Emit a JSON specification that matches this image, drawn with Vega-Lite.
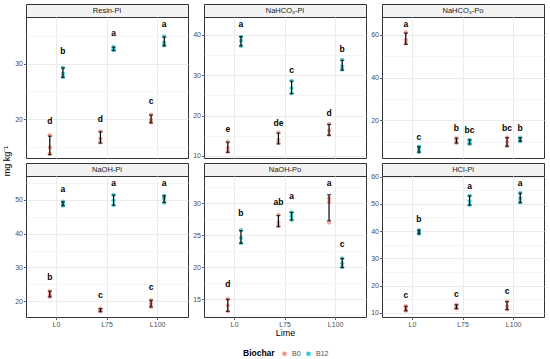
{
"$schema": "https://vega.github.io/schema/vega-lite/v6.json",
"padding": {"left": 3, "top": 3, "right": 2, "bottom": 0},
"datasets": {
"obs": [
{"Fraction":"Resin-Pi","Lime":"L0","Biochar":"B0","v":17.1},{"Fraction":"Resin-Pi","Lime":"L0","Biochar":"B0","v":14.9},{"Fraction":"Resin-Pi","Lime":"L0","Biochar":"B0","v":13.8},
{"Fraction":"Resin-Pi","Lime":"L0","Biochar":"B12","v":29.3},{"Fraction":"Resin-Pi","Lime":"L0","Biochar":"B12","v":28.2},{"Fraction":"Resin-Pi","Lime":"L0","Biochar":"B12","v":27.6},
{"Fraction":"Resin-Pi","Lime":"L75","Biochar":"B0","v":17.8},{"Fraction":"Resin-Pi","Lime":"L75","Biochar":"B0","v":16.5},{"Fraction":"Resin-Pi","Lime":"L75","Biochar":"B0","v":15.8},
{"Fraction":"Resin-Pi","Lime":"L75","Biochar":"B12","v":33.0},{"Fraction":"Resin-Pi","Lime":"L75","Biochar":"B12","v":32.6},{"Fraction":"Resin-Pi","Lime":"L75","Biochar":"B12","v":32.4},
{"Fraction":"Resin-Pi","Lime":"L100","Biochar":"B0","v":20.8},{"Fraction":"Resin-Pi","Lime":"L100","Biochar":"B0","v":19.9},{"Fraction":"Resin-Pi","Lime":"L100","Biochar":"B0","v":19.4},
{"Fraction":"Resin-Pi","Lime":"L100","Biochar":"B12","v":34.9},{"Fraction":"Resin-Pi","Lime":"L100","Biochar":"B12","v":33.8},{"Fraction":"Resin-Pi","Lime":"L100","Biochar":"B12","v":33.3},
{"Fraction":"NaHCO3-Pi","Lime":"L0","Biochar":"B0","v":13.5},{"Fraction":"NaHCO3-Pi","Lime":"L0","Biochar":"B0","v":12.0},{"Fraction":"NaHCO3-Pi","Lime":"L0","Biochar":"B0","v":11.0},
{"Fraction":"NaHCO3-Pi","Lime":"L0","Biochar":"B12","v":39.5},{"Fraction":"NaHCO3-Pi","Lime":"L0","Biochar":"B12","v":38.5},{"Fraction":"NaHCO3-Pi","Lime":"L0","Biochar":"B12","v":37.2},
{"Fraction":"NaHCO3-Pi","Lime":"L75","Biochar":"B0","v":15.8},{"Fraction":"NaHCO3-Pi","Lime":"L75","Biochar":"B0","v":14.0},{"Fraction":"NaHCO3-Pi","Lime":"L75","Biochar":"B0","v":13.2},
{"Fraction":"NaHCO3-Pi","Lime":"L75","Biochar":"B12","v":28.6},{"Fraction":"NaHCO3-Pi","Lime":"L75","Biochar":"B12","v":26.8},{"Fraction":"NaHCO3-Pi","Lime":"L75","Biochar":"B12","v":25.5},
{"Fraction":"NaHCO3-Pi","Lime":"L100","Biochar":"B0","v":17.9},{"Fraction":"NaHCO3-Pi","Lime":"L100","Biochar":"B0","v":16.3},{"Fraction":"NaHCO3-Pi","Lime":"L100","Biochar":"B0","v":15.2},
{"Fraction":"NaHCO3-Pi","Lime":"L100","Biochar":"B12","v":33.8},{"Fraction":"NaHCO3-Pi","Lime":"L100","Biochar":"B12","v":32.2},{"Fraction":"NaHCO3-Pi","Lime":"L100","Biochar":"B12","v":31.4},
{"Fraction":"NaHCO3-Po","Lime":"L0","Biochar":"B0","v":61.0},{"Fraction":"NaHCO3-Po","Lime":"L0","Biochar":"B0","v":57.5},{"Fraction":"NaHCO3-Po","Lime":"L0","Biochar":"B0","v":55.8},
{"Fraction":"NaHCO3-Po","Lime":"L0","Biochar":"B12","v":7.8},{"Fraction":"NaHCO3-Po","Lime":"L0","Biochar":"B12","v":6.5},{"Fraction":"NaHCO3-Po","Lime":"L0","Biochar":"B12","v":5.2},
{"Fraction":"NaHCO3-Po","Lime":"L75","Biochar":"B0","v":11.8},{"Fraction":"NaHCO3-Po","Lime":"L75","Biochar":"B0","v":10.5},{"Fraction":"NaHCO3-Po","Lime":"L75","Biochar":"B0","v":9.5},
{"Fraction":"NaHCO3-Po","Lime":"L75","Biochar":"B12","v":11.0},{"Fraction":"NaHCO3-Po","Lime":"L75","Biochar":"B12","v":10.0},{"Fraction":"NaHCO3-Po","Lime":"L75","Biochar":"B12","v":9.0},
{"Fraction":"NaHCO3-Po","Lime":"L100","Biochar":"B0","v":12.0},{"Fraction":"NaHCO3-Po","Lime":"L100","Biochar":"B0","v":10.0},{"Fraction":"NaHCO3-Po","Lime":"L100","Biochar":"B0","v":8.0},
{"Fraction":"NaHCO3-Po","Lime":"L100","Biochar":"B12","v":12.0},{"Fraction":"NaHCO3-Po","Lime":"L100","Biochar":"B12","v":11.0},{"Fraction":"NaHCO3-Po","Lime":"L100","Biochar":"B12","v":10.3},
{"Fraction":"NaOH-Pi","Lime":"L0","Biochar":"B0","v":23.0},{"Fraction":"NaOH-Pi","Lime":"L0","Biochar":"B0","v":22.0},{"Fraction":"NaOH-Pi","Lime":"L0","Biochar":"B0","v":21.3},
{"Fraction":"NaOH-Pi","Lime":"L0","Biochar":"B12","v":49.5},{"Fraction":"NaOH-Pi","Lime":"L0","Biochar":"B12","v":48.8},{"Fraction":"NaOH-Pi","Lime":"L0","Biochar":"B12","v":48.3},
{"Fraction":"NaOH-Pi","Lime":"L75","Biochar":"B0","v":17.8},{"Fraction":"NaOH-Pi","Lime":"L75","Biochar":"B0","v":17.3},{"Fraction":"NaOH-Pi","Lime":"L75","Biochar":"B0","v":16.9},
{"Fraction":"NaOH-Pi","Lime":"L75","Biochar":"B12","v":51.5},{"Fraction":"NaOH-Pi","Lime":"L75","Biochar":"B12","v":49.8},{"Fraction":"NaOH-Pi","Lime":"L75","Biochar":"B12","v":48.5},
{"Fraction":"NaOH-Pi","Lime":"L100","Biochar":"B0","v":20.3},{"Fraction":"NaOH-Pi","Lime":"L100","Biochar":"B0","v":19.2},{"Fraction":"NaOH-Pi","Lime":"L100","Biochar":"B0","v":18.3},
{"Fraction":"NaOH-Pi","Lime":"L100","Biochar":"B12","v":51.2},{"Fraction":"NaOH-Pi","Lime":"L100","Biochar":"B12","v":50.3},{"Fraction":"NaOH-Pi","Lime":"L100","Biochar":"B12","v":49.2},
{"Fraction":"NaOH-Po","Lime":"L0","Biochar":"B0","v":15.0},{"Fraction":"NaOH-Po","Lime":"L0","Biochar":"B0","v":14.0},{"Fraction":"NaOH-Po","Lime":"L0","Biochar":"B0","v":13.1},
{"Fraction":"NaOH-Po","Lime":"L0","Biochar":"B12","v":25.8},{"Fraction":"NaOH-Po","Lime":"L0","Biochar":"B12","v":24.6},{"Fraction":"NaOH-Po","Lime":"L0","Biochar":"B12","v":23.8},
{"Fraction":"NaOH-Po","Lime":"L75","Biochar":"B0","v":28.2},{"Fraction":"NaOH-Po","Lime":"L75","Biochar":"B0","v":27.0},{"Fraction":"NaOH-Po","Lime":"L75","Biochar":"B0","v":26.5},
{"Fraction":"NaOH-Po","Lime":"L75","Biochar":"B12","v":28.6},{"Fraction":"NaOH-Po","Lime":"L75","Biochar":"B12","v":28.0},{"Fraction":"NaOH-Po","Lime":"L75","Biochar":"B12","v":27.4},
{"Fraction":"NaOH-Po","Lime":"L100","Biochar":"B0","v":30.8},{"Fraction":"NaOH-Po","Lime":"L100","Biochar":"B0","v":30.2},{"Fraction":"NaOH-Po","Lime":"L100","Biochar":"B0","v":27.0},
{"Fraction":"NaOH-Po","Lime":"L100","Biochar":"B12","v":21.4},{"Fraction":"NaOH-Po","Lime":"L100","Biochar":"B12","v":20.6},{"Fraction":"NaOH-Po","Lime":"L100","Biochar":"B12","v":20.0},
{"Fraction":"HCl-Pi","Lime":"L0","Biochar":"B0","v":12.5},{"Fraction":"HCl-Pi","Lime":"L0","Biochar":"B0","v":11.5},{"Fraction":"HCl-Pi","Lime":"L0","Biochar":"B0","v":10.8},
{"Fraction":"HCl-Pi","Lime":"L0","Biochar":"B12","v":40.4},{"Fraction":"HCl-Pi","Lime":"L0","Biochar":"B12","v":39.6},{"Fraction":"HCl-Pi","Lime":"L0","Biochar":"B12","v":39.0},
{"Fraction":"HCl-Pi","Lime":"L75","Biochar":"B0","v":13.0},{"Fraction":"HCl-Pi","Lime":"L75","Biochar":"B0","v":12.2},{"Fraction":"HCl-Pi","Lime":"L75","Biochar":"B0","v":11.6},
{"Fraction":"HCl-Pi","Lime":"L75","Biochar":"B12","v":53.0},{"Fraction":"HCl-Pi","Lime":"L75","Biochar":"B12","v":51.0},{"Fraction":"HCl-Pi","Lime":"L75","Biochar":"B12","v":49.6},
{"Fraction":"HCl-Pi","Lime":"L100","Biochar":"B0","v":14.2},{"Fraction":"HCl-Pi","Lime":"L100","Biochar":"B0","v":12.5},{"Fraction":"HCl-Pi","Lime":"L100","Biochar":"B0","v":11.3},
{"Fraction":"HCl-Pi","Lime":"L100","Biochar":"B12","v":54.0},{"Fraction":"HCl-Pi","Lime":"L100","Biochar":"B12","v":52.0},{"Fraction":"HCl-Pi","Lime":"L100","Biochar":"B12","v":50.5}
],
"letters": [
{"Fraction":"Resin-Pi","Lime":"L0","Biochar":"B0","ly":19.6,"letter":"d"},{"Fraction":"Resin-Pi","Lime":"L0","Biochar":"B12","ly":32.3,"letter":"b"},
{"Fraction":"Resin-Pi","Lime":"L75","Biochar":"B0","ly":20.0,"letter":"d"},{"Fraction":"Resin-Pi","Lime":"L75","Biochar":"B12","ly":35.6,"letter":"a"},
{"Fraction":"Resin-Pi","Lime":"L100","Biochar":"B0","ly":23.3,"letter":"c"},{"Fraction":"Resin-Pi","Lime":"L100","Biochar":"B12","ly":37.2,"letter":"a"},
{"Fraction":"NaHCO3-Pi","Lime":"L0","Biochar":"B0","ly":16.7,"letter":"e"},{"Fraction":"NaHCO3-Pi","Lime":"L0","Biochar":"B12","ly":42.7,"letter":"a"},
{"Fraction":"NaHCO3-Pi","Lime":"L75","Biochar":"B0","ly":18.2,"letter":"de"},{"Fraction":"NaHCO3-Pi","Lime":"L75","Biochar":"B12","ly":31.3,"letter":"c"},
{"Fraction":"NaHCO3-Pi","Lime":"L100","Biochar":"B0","ly":20.7,"letter":"d"},{"Fraction":"NaHCO3-Pi","Lime":"L100","Biochar":"B12","ly":36.5,"letter":"b"},
{"Fraction":"NaHCO3-Po","Lime":"L0","Biochar":"B0","ly":65.1,"letter":"a"},{"Fraction":"NaHCO3-Po","Lime":"L0","Biochar":"B12","ly":12.4,"letter":"c"},
{"Fraction":"NaHCO3-Po","Lime":"L75","Biochar":"B0","ly":16.3,"letter":"b"},{"Fraction":"NaHCO3-Po","Lime":"L75","Biochar":"B12","ly":15.5,"letter":"bc"},
{"Fraction":"NaHCO3-Po","Lime":"L100","Biochar":"B0","ly":16.3,"letter":"bc"},{"Fraction":"NaHCO3-Po","Lime":"L100","Biochar":"B12","ly":16.3,"letter":"b"},
{"Fraction":"NaOH-Pi","Lime":"L0","Biochar":"B0","ly":27.1,"letter":"b"},{"Fraction":"NaOH-Pi","Lime":"L0","Biochar":"B12","ly":53.2,"letter":"a"},
{"Fraction":"NaOH-Pi","Lime":"L75","Biochar":"B0","ly":21.7,"letter":"c"},{"Fraction":"NaOH-Pi","Lime":"L75","Biochar":"B12","ly":54.9,"letter":"a"},
{"Fraction":"NaOH-Pi","Lime":"L100","Biochar":"B0","ly":24.1,"letter":"c"},{"Fraction":"NaOH-Pi","Lime":"L100","Biochar":"B12","ly":54.9,"letter":"a"},
{"Fraction":"NaOH-Po","Lime":"L0","Biochar":"B0","ly":17.4,"letter":"d"},{"Fraction":"NaOH-Po","Lime":"L0","Biochar":"B12","ly":28.5,"letter":"b"},
{"Fraction":"NaOH-Po","Lime":"L75","Biochar":"B0","ly":30.3,"letter":"ab"},{"Fraction":"NaOH-Po","Lime":"L75","Biochar":"B12","ly":31.1,"letter":"a"},
{"Fraction":"NaOH-Po","Lime":"L100","Biochar":"B0","ly":33.2,"letter":"a"},{"Fraction":"NaOH-Po","Lime":"L100","Biochar":"B12","ly":23.7,"letter":"c"},
{"Fraction":"HCl-Pi","Lime":"L0","Biochar":"B0","ly":16.5,"letter":"c"},{"Fraction":"HCl-Pi","Lime":"L0","Biochar":"B12","ly":44.5,"letter":"b"},
{"Fraction":"HCl-Pi","Lime":"L75","Biochar":"B0","ly":17.1,"letter":"c"},{"Fraction":"HCl-Pi","Lime":"L75","Biochar":"B12","ly":56.6,"letter":"a"},
{"Fraction":"HCl-Pi","Lime":"L100","Biochar":"B0","ly":17.9,"letter":"c"},{"Fraction":"HCl-Pi","Lime":"L100","Biochar":"B12","ly":57.6,"letter":"a"}
]
},
"hconcat": [
{"width": 8, "height": 314, "view": {"stroke": null}, "data": {"values": [{"t": "mg kg⁻¹"}]}, "mark": {"type": "text", "angle": 270, "fontSize": 9, "fontWeight": "normal", "color": "#000000"}, "encoding": {"text": {"field": "t", "type": "nominal"}}},
{"vconcat": [
{"hconcat": [
{"vconcat": [
{"width": 162, "height": 13, "view": {"fill": "#F2F2F2", "stroke": "#333333"}, "data": {"values": [{"s": "Resin-Pi"}]}, "mark": {"type": "text", "fontSize": 7.5, "color": "#1A1A1A"}, "encoding": {"text": {"field": "s", "type": "nominal"}}},
{"width": 162, "height": 141, "layer": [
{"data": {"name": "obs"}, "transform": [{"filter": "datum.Fraction === 'Resin-Pi'"}], "mark": {"type": "point", "filled": true, "size": 18, "opacity": 0.65},
 "encoding": {"x": {"field": "Lime", "type": "nominal", "title": null, "scale": {"domain": ["L0","L75","L100"], "paddingInner": 0, "paddingOuter": 0.1}, "axis": {"labels": false, "ticks": false, "grid": true, "bandPosition": 0.5}},
 "xOffset": {"field": "Biochar", "type": "nominal", "scale": {"domain": ["B0","B12"], "paddingInner": 0, "paddingOuter": 0.925}},
 "y": {"field": "v", "type": "quantitative", "title": null, "scale": {"domain": [13, 38.4], "nice": false, "zero": false}, "axis": {"format": "d", "tickCount": 40, "values": [15,20,25,30,35], "labelExpr": "datum.value % 10 === 0 ? datum.label : ''", "tickOpacity": {"condition": {"test": "datum.value % 10 === 0", "value": 1}, "value": 0}, "gridWidth": {"condition": {"test": "datum.value % 10 === 0", "value": 1}, "value": 0.5}}},
 "color": {"field": "Biochar", "type": "nominal", "scale": {"domain": ["B0","B12"], "range": ["#F8766D","#00BFC4"]}, "legend": {"title": "Biochar", "orient": "none", "legendX": 240, "legendY": 346, "direction": "horizontal", "titleOrient": "left"}}}},
{"data": {"name": "obs"}, "transform": [{"filter": "datum.Fraction === 'Resin-Pi'"}], "mark": {"type": "errorbar", "extent": "stdev", "ticks": {"size": 4}, "color": "black", "thickness": 1.2},
 "encoding": {"x": {"field": "Lime", "type": "nominal", "title": null, "scale": {"domain": ["L0","L75","L100"], "paddingInner": 0, "paddingOuter": 0.1}}, "xOffset": {"field": "Biochar", "type": "nominal", "scale": {"domain": ["B0","B12"], "paddingInner": 0, "paddingOuter": 0.925}}, "y": {"field": "v", "type": "quantitative", "title": null, "scale": {"domain": [13, 38.4], "nice": false, "zero": false}}}},
{"data": {"name": "letters"}, "transform": [{"filter": "datum.Fraction === 'Resin-Pi'"}], "mark": {"type": "text", "fontWeight": "bold", "fontSize": 8.5, "color": "black"},
 "encoding": {"x": {"field": "Lime", "type": "nominal", "title": null, "scale": {"domain": ["L0","L75","L100"], "paddingInner": 0, "paddingOuter": 0.1}}, "xOffset": {"field": "Biochar", "type": "nominal", "scale": {"domain": ["B0","B12"], "paddingInner": 0, "paddingOuter": 0.925}}, "y": {"field": "ly", "type": "quantitative", "title": null, "scale": {"domain": [13, 38.4], "nice": false, "zero": false}}, "text": {"field": "letter", "type": "nominal"}}}
]}
], "spacing": 0, "bounds": "flush"},
{"vconcat": [
{"width": 162, "height": 13, "view": {"fill": "#F2F2F2", "stroke": "#333333"}, "data": {"values": [{"s": "NaHCO₃-Pi"}]}, "mark": {"type": "text", "fontSize": 7.5, "color": "#1A1A1A"}, "encoding": {"text": {"field": "s", "type": "nominal"}}},
{"width": 162, "height": 141, "layer": [
{"data": {"name": "obs"}, "transform": [{"filter": "datum.Fraction === 'NaHCO3-Pi'"}], "mark": {"type": "point", "filled": true, "size": 18, "opacity": 0.65},
 "encoding": {"x": {"field": "Lime", "type": "nominal", "title": null, "scale": {"domain": ["L0","L75","L100"], "paddingInner": 0, "paddingOuter": 0.1}, "axis": {"labels": false, "ticks": false, "grid": true, "bandPosition": 0.5}},
 "xOffset": {"field": "Biochar", "type": "nominal", "scale": {"domain": ["B0","B12"], "paddingInner": 0, "paddingOuter": 0.925}},
 "y": {"field": "v", "type": "quantitative", "title": null, "scale": {"domain": [9.5, 44.4], "nice": false, "zero": false}, "axis": {"format": "d", "tickCount": 40, "values": [10,15,20,25,30,35,40], "labelExpr": "datum.value % 10 === 0 ? datum.label : ''", "tickOpacity": {"condition": {"test": "datum.value % 10 === 0", "value": 1}, "value": 0}, "gridWidth": {"condition": {"test": "datum.value % 10 === 0", "value": 1}, "value": 0.5}}},
 "color": {"field": "Biochar", "type": "nominal", "scale": {"domain": ["B0","B12"], "range": ["#F8766D","#00BFC4"]}, "legend": {"title": "Biochar", "orient": "none", "legendX": 240, "legendY": 346, "direction": "horizontal", "titleOrient": "left"}}}},
{"data": {"name": "obs"}, "transform": [{"filter": "datum.Fraction === 'NaHCO3-Pi'"}], "mark": {"type": "errorbar", "extent": "stdev", "ticks": {"size": 4}, "color": "black", "thickness": 1.2},
 "encoding": {"x": {"field": "Lime", "type": "nominal", "title": null, "scale": {"domain": ["L0","L75","L100"], "paddingInner": 0, "paddingOuter": 0.1}}, "xOffset": {"field": "Biochar", "type": "nominal", "scale": {"domain": ["B0","B12"], "paddingInner": 0, "paddingOuter": 0.925}}, "y": {"field": "v", "type": "quantitative", "title": null, "scale": {"domain": [9.5, 44.4], "nice": false, "zero": false}}}},
{"data": {"name": "letters"}, "transform": [{"filter": "datum.Fraction === 'NaHCO3-Pi'"}], "mark": {"type": "text", "fontWeight": "bold", "fontSize": 8.5, "color": "black"},
 "encoding": {"x": {"field": "Lime", "type": "nominal", "title": null, "scale": {"domain": ["L0","L75","L100"], "paddingInner": 0, "paddingOuter": 0.1}}, "xOffset": {"field": "Biochar", "type": "nominal", "scale": {"domain": ["B0","B12"], "paddingInner": 0, "paddingOuter": 0.925}}, "y": {"field": "ly", "type": "quantitative", "title": null, "scale": {"domain": [9.5, 44.4], "nice": false, "zero": false}}, "text": {"field": "letter", "type": "nominal"}}}
]}
], "spacing": 0, "bounds": "flush"},
{"vconcat": [
{"width": 162, "height": 13, "view": {"fill": "#F2F2F2", "stroke": "#333333"}, "data": {"values": [{"s": "NaHCO₃-Po"}]}, "mark": {"type": "text", "fontSize": 7.5, "color": "#1A1A1A"}, "encoding": {"text": {"field": "s", "type": "nominal"}}},
{"width": 162, "height": 141, "layer": [
{"data": {"name": "obs"}, "transform": [{"filter": "datum.Fraction === 'NaHCO3-Po'"}], "mark": {"type": "point", "filled": true, "size": 18, "opacity": 0.65},
 "encoding": {"x": {"field": "Lime", "type": "nominal", "title": null, "scale": {"domain": ["L0","L75","L100"], "paddingInner": 0, "paddingOuter": 0.1}, "axis": {"labels": false, "ticks": false, "grid": true, "bandPosition": 0.5}},
 "xOffset": {"field": "Biochar", "type": "nominal", "scale": {"domain": ["B0","B12"], "paddingInner": 0, "paddingOuter": 0.925}},
 "y": {"field": "v", "type": "quantitative", "title": null, "scale": {"domain": [2.5, 68.2], "nice": false, "zero": false}, "axis": {"format": "d", "tickCount": 40, "values": [10,20,30,40,50,60], "labelExpr": "datum.value % 20 === 0 ? datum.label : ''", "tickOpacity": {"condition": {"test": "datum.value % 20 === 0", "value": 1}, "value": 0}, "gridWidth": {"condition": {"test": "datum.value % 20 === 0", "value": 1}, "value": 0.5}}},
 "color": {"field": "Biochar", "type": "nominal", "scale": {"domain": ["B0","B12"], "range": ["#F8766D","#00BFC4"]}, "legend": {"title": "Biochar", "orient": "none", "legendX": 240, "legendY": 346, "direction": "horizontal", "titleOrient": "left"}}}},
{"data": {"name": "obs"}, "transform": [{"filter": "datum.Fraction === 'NaHCO3-Po'"}], "mark": {"type": "errorbar", "extent": "stdev", "ticks": {"size": 4}, "color": "black", "thickness": 1.2},
 "encoding": {"x": {"field": "Lime", "type": "nominal", "title": null, "scale": {"domain": ["L0","L75","L100"], "paddingInner": 0, "paddingOuter": 0.1}}, "xOffset": {"field": "Biochar", "type": "nominal", "scale": {"domain": ["B0","B12"], "paddingInner": 0, "paddingOuter": 0.925}}, "y": {"field": "v", "type": "quantitative", "title": null, "scale": {"domain": [2.5, 68.2], "nice": false, "zero": false}}}},
{"data": {"name": "letters"}, "transform": [{"filter": "datum.Fraction === 'NaHCO3-Po'"}], "mark": {"type": "text", "fontWeight": "bold", "fontSize": 8.5, "color": "black"},
 "encoding": {"x": {"field": "Lime", "type": "nominal", "title": null, "scale": {"domain": ["L0","L75","L100"], "paddingInner": 0, "paddingOuter": 0.1}}, "xOffset": {"field": "Biochar", "type": "nominal", "scale": {"domain": ["B0","B12"], "paddingInner": 0, "paddingOuter": 0.925}}, "y": {"field": "ly", "type": "quantitative", "title": null, "scale": {"domain": [2.5, 68.2], "nice": false, "zero": false}}, "text": {"field": "letter", "type": "nominal"}}}
]}
], "spacing": 0, "bounds": "flush"}
], "spacing": 3},
{"hconcat": [
{"vconcat": [
{"width": 162, "height": 13, "view": {"fill": "#F2F2F2", "stroke": "#333333"}, "data": {"values": [{"s": "NaOH-Pi"}]}, "mark": {"type": "text", "fontSize": 7.5, "color": "#1A1A1A"}, "encoding": {"text": {"field": "s", "type": "nominal"}}},
{"width": 162, "height": 141, "layer": [
{"data": {"name": "obs"}, "transform": [{"filter": "datum.Fraction === 'NaOH-Pi'"}], "mark": {"type": "point", "filled": true, "size": 18, "opacity": 0.65},
 "encoding": {"x": {"field": "Lime", "type": "nominal", "title": null, "scale": {"domain": ["L0","L75","L100"], "paddingInner": 0, "paddingOuter": 0.1}, "axis": {"labelAngle": 0, "grid": true, "bandPosition": 0.5}},
 "xOffset": {"field": "Biochar", "type": "nominal", "scale": {"domain": ["B0","B12"], "paddingInner": 0, "paddingOuter": 0.925}},
 "y": {"field": "v", "type": "quantitative", "title": null, "scale": {"domain": [15.3, 57.1], "nice": false, "zero": false}, "axis": {"format": "d", "tickCount": 40, "values": [20,25,30,35,40,45,50,55], "labelExpr": "datum.value % 10 === 0 ? datum.label : ''", "tickOpacity": {"condition": {"test": "datum.value % 10 === 0", "value": 1}, "value": 0}, "gridWidth": {"condition": {"test": "datum.value % 10 === 0", "value": 1}, "value": 0.5}}},
 "color": {"field": "Biochar", "type": "nominal", "scale": {"domain": ["B0","B12"], "range": ["#F8766D","#00BFC4"]}, "legend": {"title": "Biochar", "orient": "none", "legendX": 240, "legendY": 346, "direction": "horizontal", "titleOrient": "left"}}}},
{"data": {"name": "obs"}, "transform": [{"filter": "datum.Fraction === 'NaOH-Pi'"}], "mark": {"type": "errorbar", "extent": "stdev", "ticks": {"size": 4}, "color": "black", "thickness": 1.2},
 "encoding": {"x": {"field": "Lime", "type": "nominal", "title": null, "scale": {"domain": ["L0","L75","L100"], "paddingInner": 0, "paddingOuter": 0.1}}, "xOffset": {"field": "Biochar", "type": "nominal", "scale": {"domain": ["B0","B12"], "paddingInner": 0, "paddingOuter": 0.925}}, "y": {"field": "v", "type": "quantitative", "title": null, "scale": {"domain": [15.3, 57.1], "nice": false, "zero": false}}}},
{"data": {"name": "letters"}, "transform": [{"filter": "datum.Fraction === 'NaOH-Pi'"}], "mark": {"type": "text", "fontWeight": "bold", "fontSize": 8.5, "color": "black"},
 "encoding": {"x": {"field": "Lime", "type": "nominal", "title": null, "scale": {"domain": ["L0","L75","L100"], "paddingInner": 0, "paddingOuter": 0.1}}, "xOffset": {"field": "Biochar", "type": "nominal", "scale": {"domain": ["B0","B12"], "paddingInner": 0, "paddingOuter": 0.925}}, "y": {"field": "ly", "type": "quantitative", "title": null, "scale": {"domain": [15.3, 57.1], "nice": false, "zero": false}}, "text": {"field": "letter", "type": "nominal"}}}
]}
], "spacing": 0, "bounds": "flush"},
{"vconcat": [
{"width": 162, "height": 13, "view": {"fill": "#F2F2F2", "stroke": "#333333"}, "data": {"values": [{"s": "NaOH-Po"}]}, "mark": {"type": "text", "fontSize": 7.5, "color": "#1A1A1A"}, "encoding": {"text": {"field": "s", "type": "nominal"}}},
{"width": 162, "height": 141, "layer": [
{"data": {"name": "obs"}, "transform": [{"filter": "datum.Fraction === 'NaOH-Po'"}], "mark": {"type": "point", "filled": true, "size": 18, "opacity": 0.65},
 "encoding": {"x": {"field": "Lime", "type": "nominal", "title": "Lime", "scale": {"domain": ["L0","L75","L100"], "paddingInner": 0, "paddingOuter": 0.1}, "axis": {"labelAngle": 0, "grid": true, "bandPosition": 0.5}},
 "xOffset": {"field": "Biochar", "type": "nominal", "scale": {"domain": ["B0","B12"], "paddingInner": 0, "paddingOuter": 0.925}},
 "y": {"field": "v", "type": "quantitative", "title": null, "scale": {"domain": [12.2, 34.3], "nice": false, "zero": false}, "axis": {"format": "d", "tickCount": 40, "values": [12.5,15,17.5,20,22.5,25,27.5,30,32.5], "labelExpr": "datum.value % 5 === 0 ? datum.label : ''", "tickOpacity": {"condition": {"test": "datum.value % 5 === 0", "value": 1}, "value": 0}, "gridWidth": {"condition": {"test": "datum.value % 5 === 0", "value": 1}, "value": 0.5}}},
 "color": {"field": "Biochar", "type": "nominal", "scale": {"domain": ["B0","B12"], "range": ["#F8766D","#00BFC4"]}, "legend": {"title": "Biochar", "orient": "none", "legendX": 240, "legendY": 346, "direction": "horizontal", "titleOrient": "left"}}}},
{"data": {"name": "obs"}, "transform": [{"filter": "datum.Fraction === 'NaOH-Po'"}], "mark": {"type": "errorbar", "extent": "stdev", "ticks": {"size": 4}, "color": "black", "thickness": 1.2},
 "encoding": {"x": {"field": "Lime", "type": "nominal", "title": "Lime", "scale": {"domain": ["L0","L75","L100"], "paddingInner": 0, "paddingOuter": 0.1}}, "xOffset": {"field": "Biochar", "type": "nominal", "scale": {"domain": ["B0","B12"], "paddingInner": 0, "paddingOuter": 0.925}}, "y": {"field": "v", "type": "quantitative", "title": null, "scale": {"domain": [12.2, 34.3], "nice": false, "zero": false}}}},
{"data": {"name": "letters"}, "transform": [{"filter": "datum.Fraction === 'NaOH-Po'"}], "mark": {"type": "text", "fontWeight": "bold", "fontSize": 8.5, "color": "black"},
 "encoding": {"x": {"field": "Lime", "type": "nominal", "title": "Lime", "scale": {"domain": ["L0","L75","L100"], "paddingInner": 0, "paddingOuter": 0.1}}, "xOffset": {"field": "Biochar", "type": "nominal", "scale": {"domain": ["B0","B12"], "paddingInner": 0, "paddingOuter": 0.925}}, "y": {"field": "ly", "type": "quantitative", "title": null, "scale": {"domain": [12.2, 34.3], "nice": false, "zero": false}}, "text": {"field": "letter", "type": "nominal"}}}
]}
], "spacing": 0, "bounds": "flush"},
{"vconcat": [
{"width": 162, "height": 13, "view": {"fill": "#F2F2F2", "stroke": "#333333"}, "data": {"values": [{"s": "HCl-Pi"}]}, "mark": {"type": "text", "fontSize": 7.5, "color": "#1A1A1A"}, "encoding": {"text": {"field": "s", "type": "nominal"}}},
{"width": 162, "height": 141, "layer": [
{"data": {"name": "obs"}, "transform": [{"filter": "datum.Fraction === 'HCl-Pi'"}], "mark": {"type": "point", "filled": true, "size": 18, "opacity": 0.65},
 "encoding": {"x": {"field": "Lime", "type": "nominal", "title": null, "scale": {"domain": ["L0","L75","L100"], "paddingInner": 0, "paddingOuter": 0.1}, "axis": {"labelAngle": 0, "grid": true, "bandPosition": 0.5}},
 "xOffset": {"field": "Biochar", "type": "nominal", "scale": {"domain": ["B0","B12"], "paddingInner": 0, "paddingOuter": 0.925}},
 "y": {"field": "v", "type": "quantitative", "title": null, "scale": {"domain": [8.5, 60.2], "nice": false, "zero": false}, "axis": {"format": "d", "tickCount": 40, "values": [10,15,20,25,30,35,40,45,50,55,60], "labelExpr": "datum.value % 10 === 0 ? datum.label : ''", "tickOpacity": {"condition": {"test": "datum.value % 10 === 0", "value": 1}, "value": 0}, "gridWidth": {"condition": {"test": "datum.value % 10 === 0", "value": 1}, "value": 0.5}}},
 "color": {"field": "Biochar", "type": "nominal", "scale": {"domain": ["B0","B12"], "range": ["#F8766D","#00BFC4"]}, "legend": {"title": "Biochar", "orient": "none", "legendX": 240, "legendY": 346, "direction": "horizontal", "titleOrient": "left"}}}},
{"data": {"name": "obs"}, "transform": [{"filter": "datum.Fraction === 'HCl-Pi'"}], "mark": {"type": "errorbar", "extent": "stdev", "ticks": {"size": 4}, "color": "black", "thickness": 1.2},
 "encoding": {"x": {"field": "Lime", "type": "nominal", "title": null, "scale": {"domain": ["L0","L75","L100"], "paddingInner": 0, "paddingOuter": 0.1}}, "xOffset": {"field": "Biochar", "type": "nominal", "scale": {"domain": ["B0","B12"], "paddingInner": 0, "paddingOuter": 0.925}}, "y": {"field": "v", "type": "quantitative", "title": null, "scale": {"domain": [8.5, 60.2], "nice": false, "zero": false}}}},
{"data": {"name": "letters"}, "transform": [{"filter": "datum.Fraction === 'HCl-Pi'"}], "mark": {"type": "text", "fontWeight": "bold", "fontSize": 8.5, "color": "black"},
 "encoding": {"x": {"field": "Lime", "type": "nominal", "title": null, "scale": {"domain": ["L0","L75","L100"], "paddingInner": 0, "paddingOuter": 0.1}}, "xOffset": {"field": "Biochar", "type": "nominal", "scale": {"domain": ["B0","B12"], "paddingInner": 0, "paddingOuter": 0.925}}, "y": {"field": "ly", "type": "quantitative", "title": null, "scale": {"domain": [8.5, 60.2], "nice": false, "zero": false}}, "text": {"field": "letter", "type": "nominal"}}}
]}
], "spacing": 0, "bounds": "flush"}
], "spacing": 3}
], "spacing": 2}
],
"spacing": 2,
"config": {
"font": "Liberation Sans",
"view": {"stroke": "#333333", "strokeWidth": 1},
"axis": {"domain": false, "labelOverlap": false, "labelFontSize": 7, "labelColor": "#4D4D4D", "labelFont": "Liberation Sans", "tickColor": "#333333", "tickSize": 2.5, "tickWidth": 0.8, "labelPadding": 1, "gridColor": "#EBEBEB", "titleFontSize": 9, "titleFontWeight": "normal", "titleColor": "#000000", "titlePadding": 1, "titleFont": "Liberation Sans"},
"legend": {"titleFontSize": 8.5, "titleFontWeight": "bold", "titleColor": "#000000", "labelFontSize": 7, "labelColor": "#4D4D4D", "symbolType": "circle", "symbolSize": 22, "symbolOpacity": 0.8, "columnPadding": 4, "titlePadding": 6, "labelOffset": 4},
"text": {"font": "Liberation Sans"}
}
}
